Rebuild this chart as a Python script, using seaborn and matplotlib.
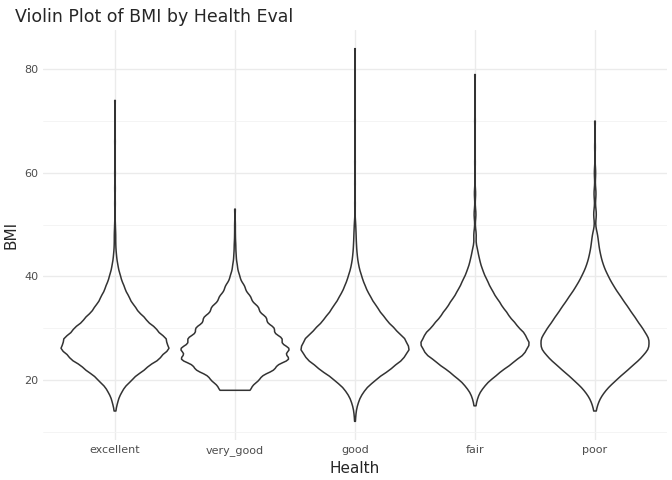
import matplotlib
matplotlib.use('Agg')
import matplotlib.pyplot as plt
import numpy as np
import pandas as pd
import seaborn as sns

# BMI value -> approximate count, read off the violin shapes
health_levels = ['excellent', 'very_good', 'good', 'fair', 'poor']
bmi_excellent = {14: 2, 16: 8, 18: 20, 20: 45, 22: 80, 24: 120, 26: 150, 28: 140, 30: 110, 32: 80,
                 34: 55, 36: 38, 38: 25, 40: 15, 42: 8, 44: 4, 46: 2, 48: 2, 50: 1, 54: 1, 57: 1,
                 60: 1, 66: 1, 74: 1}
bmi_very_good = {18: 40, 20: 60, 22: 100, 24: 140, 26: 140, 28: 120, 30: 100, 32: 80, 34: 60,
                 36: 40, 38: 25, 40: 12, 42: 6, 44: 3, 46: 2, 48: 1, 50: 1, 53: 1}
bmi_good = {12: 1, 14: 3, 16: 10, 18: 25, 20: 55, 22: 95, 24: 130, 26: 150, 28: 135, 30: 105,
            32: 80, 34: 60, 36: 42, 38: 28, 40: 18, 42: 10, 44: 6, 46: 4, 48: 3, 50: 2, 54: 1,
            58: 1, 62: 1, 70: 1, 84: 1}
bmi_fair = {15: 2, 17: 8, 19: 25, 21: 55, 23: 90, 25: 125, 27: 140, 29: 125, 31: 100, 33: 80,
            35: 62, 37: 45, 39: 32, 41: 20, 43: 12, 45: 7, 48: 4, 52: 3, 56: 2, 62: 1, 70: 1, 79: 1}
bmi_poor = {14: 2, 16: 8, 18: 22, 20: 45, 22: 70, 24: 95, 26: 115, 28: 115, 30: 100, 32: 85,
            34: 70, 36: 55, 38: 40, 40: 28, 42: 18, 44: 12, 46: 8, 48: 6, 52: 4, 56: 3, 60: 2,
            65: 1, 70: 1}

tables = [bmi_excellent, bmi_very_good, bmi_good, bmi_fair, bmi_poor]
rows = []
for level, tab in zip(health_levels, tables):
    vals = np.repeat(list(tab.keys()), list(tab.values()))
    rows.append(pd.DataFrame({'Health': level, 'BMI': vals}))
df = pd.concat(rows, ignore_index=True)

sns.set_theme(style='whitegrid')
plt.rcParams['font.family'] = ['DejaVu Sans']

fig = plt.figure(figsize=(6.72, 4.8), dpi=100)
ax = fig.add_axes([43 / 672, 40 / 480, 624 / 672, 410 / 480])
sns.violinplot(data=df, x='Health', y='BMI', order=health_levels, ax=ax,
               inner=None, cut=0, bw_adjust=0.65, width=0.9, density_norm='width',
               fill=False, color='#333333', linewidth=1.1)

ax.set_xlim(-0.6, 4.6)
ax.set_ylim(8.4, 87.6)
ax.set_yticks([20, 40, 60, 80])
ax.set_yticks([10, 30, 50, 70], minor=True)
ax.grid(True, which='major', color='#ebebeb', linewidth=1.0)
ax.grid(True, which='minor', color='#f3f3f3', linewidth=0.6)
ax.set_axisbelow(True)
for s in ax.spines.values():
    s.set_visible(False)
ax.tick_params(axis='both', which='both', length=0, labelsize=8, labelcolor='#4d4d4d')
ax.set_xlabel('Health', fontsize=11)
ax.set_ylabel('BMI', fontsize=11)
ax.set_title('Violin Plot of BMI by Health Eval', loc='left', fontsize=12.5, x=-0.045)

fig.savefig('out.png', dpi=100, facecolor='white')
